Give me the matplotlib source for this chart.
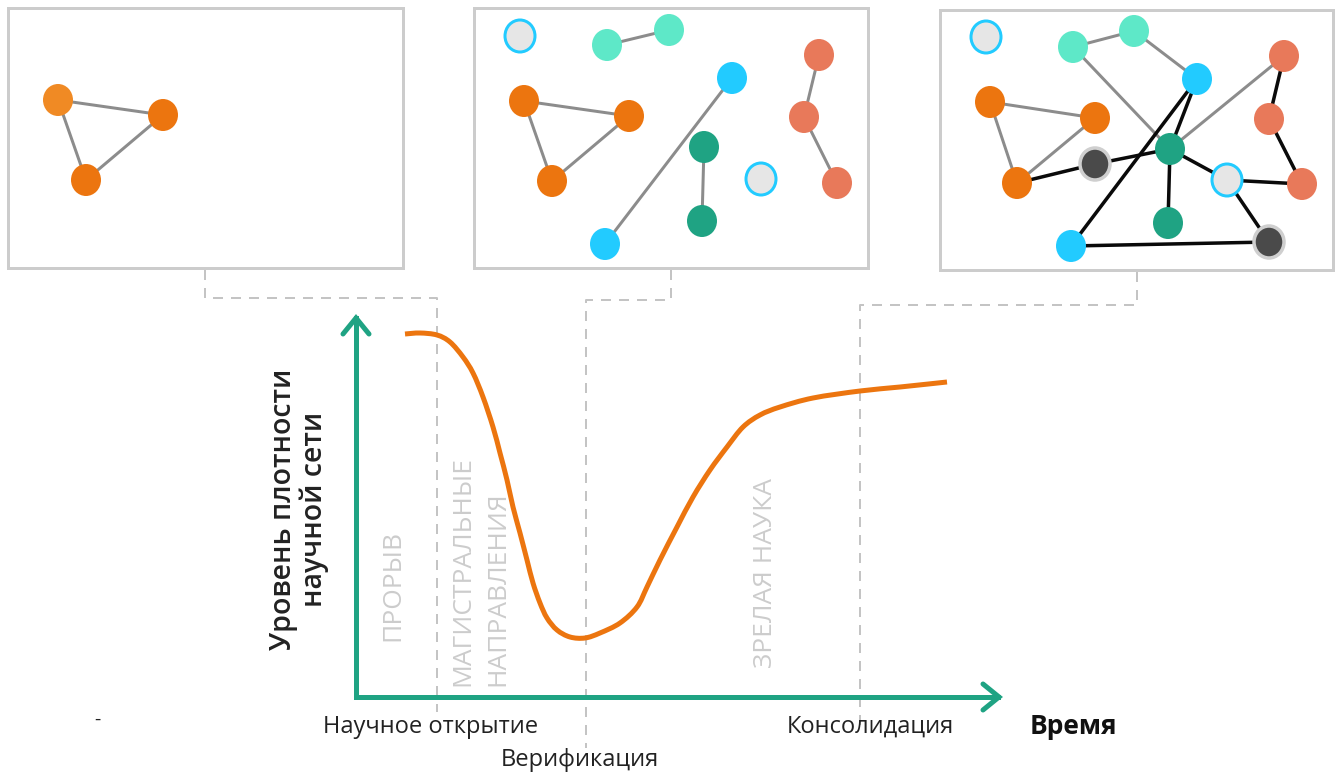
import matplotlib
matplotlib.use("Agg")
import matplotlib.pyplot as plt
from matplotlib.patches import Rectangle, Ellipse, PathPatch
from matplotlib.path import Path

plt.rcParams['font.family'] = ['Open Sans', 'DejaVu Sans']

W, H = 1339, 782
PX = 0.72  # points per pixel at dpi 100

# ---------------- data ----------------
ORANGE = '#EC750F'
ORANGE_L = '#F08A24'
TEAL_L = '#5EE8C8'
BLUE = '#22CBFF'
TEAL_D = '#1FA383'
SALMON = '#E8795A'
DARK = '#4a4a4a'
GREYN = '#E6E6E6'

# panel boxes: x0, y0, x1, y1
panel_boxes = [(8, 8, 403, 268), (474, 8, 868, 268), (940, 10, 1333, 270)]

# nodes per panel: (x, y, kind)
panel1_nodes = [(58, 100, 'orange_l'), (163, 115, 'orange'), (86, 180, 'orange')]
panel1_edges_grey = [(0, 1), (0, 2), (1, 2)]
panel1_edges_black = []

panel2_nodes = [(520, 36, 'grey'), (607, 45, 'teal_l'), (669, 30, 'teal_l'),
                (524, 101, 'orange'), (629, 116, 'orange'), (552, 181, 'orange'),
                (732, 78, 'blue'), (605, 244, 'blue'),
                (704, 147, 'teal_d'), (702, 221, 'teal_d'),
                (761, 179, 'grey'),
                (819, 55, 'salmon'), (804, 117, 'salmon'), (837, 183, 'salmon')]
panel2_edges_grey = [(1, 2), (3, 4), (3, 5), (4, 5), (6, 7), (8, 9), (11, 12), (12, 13)]
panel2_edges_black = []

panel3_nodes = [(986, 37, 'grey'), (1073, 47, 'teal_l'), (1134, 31, 'teal_l'),
                (990, 102, 'orange'), (1095, 118, 'orange'), (1017, 183, 'orange'),
                (1095, 164, 'dark'), (1269, 242, 'dark'),
                (1197, 79, 'blue'), (1071, 246, 'blue'),
                (1170, 149, 'teal_d'), (1168, 223, 'teal_d'),
                (1227, 180, 'grey'),
                (1284, 56, 'salmon'), (1269, 119, 'salmon'), (1302, 184, 'salmon')]
panel3_edges_grey = [(1, 2), (1, 10), (2, 8), (3, 4), (3, 5), (4, 5), (10, 13)]
panel3_edges_black = [(5, 6), (6, 10), (9, 8), (8, 10), (10, 11), (10, 12),
                      (12, 15), (12, 7), (9, 7), (13, 14), (14, 15)]

# dashed connectors (polyline points)
connector1 = [(205, 270), (205, 298), (437, 298), (437, 712)]
connector2 = [(671, 270), (671, 300), (586, 300), (586, 748)]
connector3 = [(1137, 272), (1137, 305), (860, 305), (860, 727)]

# curve (density over time)
curve_x = [405, 420, 437, 450, 463, 473, 483, 493, 500, 507, 513, 520, 527, 533,
           540, 547, 557, 570, 585, 600, 620, 637, 647, 660, 677, 693, 710, 727,
           743, 760, 780, 813, 860, 900, 947]
curve_y = [334, 333, 335, 342, 357, 373, 397, 427, 453, 480, 507, 533, 560, 583,
           603, 618, 630, 637, 638, 633, 623, 607, 587, 560, 527, 497, 470, 447,
           427, 415, 407, 398, 391, 387, 382]

# axes
axis_origin = (356, 697)
y_axis_top = (356, 318)
x_axis_end = (998, 697)
y_arrow_head = [(343, 334), (356, 318), (369, 334)]
x_arrow_head = [(983, 684), (999, 697), (983, 710)]

# texts
y_label = 'Уровень плотности\nнаучной сети'
phase_labels = [('ПРОРЫВ', 393, 641), ('МАГИСТРАЛЬНЫЕ', 463, 686),
                ('НАПРАВЛЕНИЯ', 498, 686), ('ЗРЕЛАЯ НАУКА', 765, 668)]
x_labels = [('Научное открытие', 431, 727), ('Верификация', 580, 760),
            ('Консолидация', 870, 727)]
x_title = ('Время', 1073, 727)

# ---------------- drawing ----------------
fig = plt.figure(figsize=(W / 100, H / 100), dpi=100)
ax = fig.add_axes([0, 0, 1, 1])
ax.set_xlim(0, W)
ax.set_ylim(H, 0)
ax.axis('off')

colors = {'orange': ORANGE, 'orange_l': ORANGE_L, 'teal_l': TEAL_L, 'blue': BLUE,
          'teal_d': TEAL_D, 'salmon': SALMON, 'dark': DARK, 'grey': GREYN}

for (x0, y0, x1, y1) in panel_boxes:
    ax.add_patch(Rectangle((x0, y0), x1 - x0, y1 - y0, fill=False,
                           edgecolor='#cccccc', linewidth=3 * PX, zorder=1))

def draw_panel(nodes, eg, eb):
    for i, j in eg:
        ax.plot([nodes[i][0], nodes[j][0]], [nodes[i][1], nodes[j][1]],
                color='#8c8c8c', lw=3 * PX, zorder=2, solid_capstyle='round')
    for i, j in eb:
        ax.plot([nodes[i][0], nodes[j][0]], [nodes[i][1], nodes[j][1]],
                color='#0a0a0a', lw=3.5 * PX, zorder=2, solid_capstyle='round')
    for x, y, k in nodes:
        if k == 'grey':
            ax.add_patch(Ellipse((x, y), 30, 32, facecolor=GREYN, edgecolor=BLUE,
                                 linewidth=3 * PX, zorder=3))
        elif k == 'dark':
            ax.add_patch(Ellipse((x, y), 30, 32, facecolor=DARK, edgecolor='#cfcfcf',
                                 linewidth=3.5 * PX, zorder=3))
        else:
            ax.add_patch(Ellipse((x, y), 30, 32, facecolor=colors[k],
                                 edgecolor='none', zorder=3))

draw_panel(panel1_nodes, panel1_edges_grey, panel1_edges_black)
draw_panel(panel2_nodes, panel2_edges_grey, panel2_edges_black)
draw_panel(panel3_nodes, panel3_edges_grey, panel3_edges_black)

for con in (connector1, connector2, connector3):
    xs, ys = zip(*con)
    ax.plot(xs, ys, color='#c4c4c4', lw=2 * PX, ls=(0, (5, 4)), zorder=1)

# axes arrows
ax.plot([axis_origin[0], y_axis_top[0]], [axis_origin[1], y_axis_top[1]],
        color=TEAL_D, lw=5 * PX, zorder=4, solid_capstyle='projecting')
ax.plot([axis_origin[0], x_axis_end[0]], [axis_origin[1], x_axis_end[1]],
        color=TEAL_D, lw=5 * PX, zorder=4, solid_capstyle='projecting')
for head in (y_arrow_head, x_arrow_head):
    xs, ys = zip(*head)
    ax.plot(xs, ys, color=TEAL_D, lw=5 * PX, zorder=4,
            solid_capstyle='round', solid_joinstyle='miter')

# curve: smooth cubic Bezier path through the read points (Catmull-Rom handles)
pts = list(zip(curve_x, curve_y))
verts = [pts[0]]
codes = [Path.MOVETO]
n = len(pts)
for i in range(n - 1):
    p0 = pts[i - 1] if i > 0 else pts[i]
    p1 = pts[i]
    p2 = pts[i + 1]
    p3 = pts[i + 2] if i + 2 < n else pts[i + 1]
    c1 = (p1[0] + (p2[0] - p0[0]) / 6.0, p1[1] + (p2[1] - p0[1]) / 6.0)
    c2 = (p2[0] - (p3[0] - p1[0]) / 6.0, p2[1] - (p3[1] - p1[1]) / 6.0)
    verts += [c1, c2, p2]
    codes += [Path.CURVE4] * 3
ax.add_patch(PathPatch(Path(verts, codes), facecolor='none', edgecolor=ORANGE,
                       lw=5 * PX, capstyle='butt', joinstyle='round', zorder=5))

# texts
ax.text(299, 509, y_label, rotation=90, ha='center', va='center',
        fontsize=20.5, fontweight='semibold', color='#222222', linespacing=1.1)
for s, x, y in phase_labels:
    ax.text(x, y, s, rotation=90, ha='left', va='center', rotation_mode='anchor',
            fontsize=19, fontweight='normal', color='#cccccc', zorder=0)
for s, x, y in x_labels:
    ax.text(x, y, s, ha='center', va='center', fontsize=17, color='#222222')
ax.text(x_title[1], x_title[2], x_title[0], ha='center', va='center',
        fontsize=19, fontweight='bold', color='#111111')
ax.text(97, 720, '-', ha='center', va='center', fontsize=14, color='#222222')

fig.savefig('out.png', dpi=100)
